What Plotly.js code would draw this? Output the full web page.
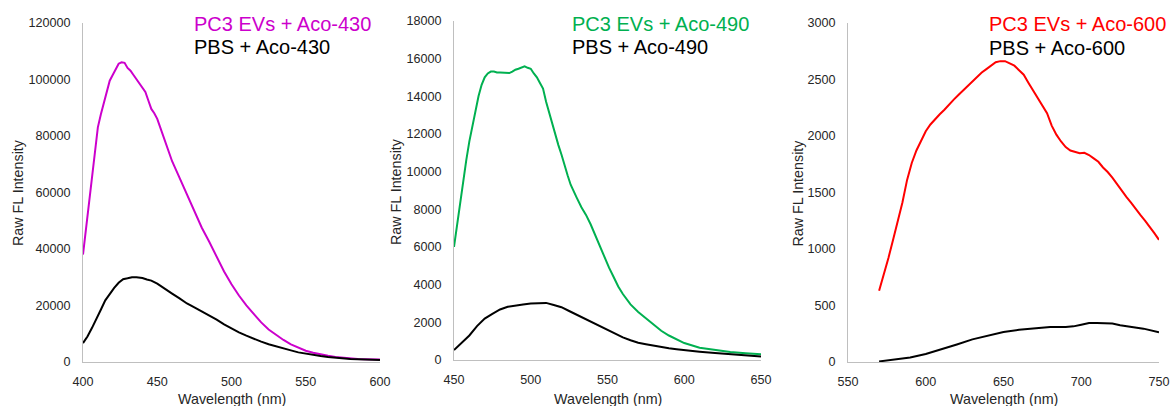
<!DOCTYPE html>
<html><head><meta charset="utf-8">
<script src="https://cdn.plot.ly/plotly-3.0.1.min.js"></script>
<style>html,body{margin:0;padding:0;background:#fff}#chart{width:1172px;height:406px}</style>
</head><body><div id="chart"></div>
<script>
// Panel 1: Aco-430
const wl430Evs = [400,402,404,406,408,410,412,414,416,418,420,422,424,426,428,430,432,434,436,438,440,442,444,446,448,450,452,455,458,460,463,466,470,475,480,485,490,495,500,505,510,515,520,525,530,535,540,545,550,555,560,565,570,575,580,585,590,595,600];
const evs430 = [38000,47000,56000,66000,75000,83000,87500,91500,95500,99500,101500,103500,105500,106000,105800,104000,103000,101500,100000,98500,97000,95500,92500,89500,88000,86000,83000,78500,74000,71000,67500,64000,59500,53500,47500,42500,37000,32000,27500,23500,20000,17000,14000,11500,9500,7800,6200,5000,4000,3300,2700,2200,1800,1500,1300,1100,1000,900,850];
const wl430Pbs = [400,403,406,409,412,415,418,421,424,427,430,433,436,440,443,446,450,455,460,465,470,475,480,485,490,495,500,505,510,515,520,525,530,535,540,545,550,555,560,565,570,575,580,585,590,595,600];
const pbs430 = [6700,9000,12000,15000,18500,21800,24200,26200,28000,29300,29600,30000,30000,29700,29200,28800,27700,25800,24200,22500,20700,19300,17900,16600,15000,13300,11800,10500,9300,8200,7200,6300,5500,4800,4100,3400,2900,2500,2100,1800,1500,1300,1100,1000,850,750,700];

// Panel 2: Aco-490
const wl490Evs = [450,452,454,456,458,460,462,464,466,468,470,472,474,476,478,480,482,484,486,488,490,492,494,496,498,500,502,504,506,508,510,512,514,516,518,520,522,524,526,528,530,533,536,539,542,545,548,551,554,557,560,565,570,575,580,585,590,595,600,610,620,630,640,650];
const evs490 = [6000,7200,8300,9500,10600,11600,12400,13200,14000,14600,15000,15200,15300,15300,15250,15250,15250,15230,15220,15300,15400,15450,15500,15580,15500,15450,15200,15000,14700,14400,13700,13100,12500,11900,11400,10900,10300,9800,9300,8900,8600,8100,7700,7200,6600,6000,5400,4900,4400,3900,3500,2950,2550,2200,1850,1550,1300,1100,900,650,520,420,360,310];
const wl490Pbs = [450,455,460,465,470,475,480,485,490,495,500,505,510,515,520,525,530,535,540,545,550,555,560,565,570,575,580,585,590,595,600,610,620,630,640,650];
const pbs490 = [530,900,1300,1800,2200,2450,2680,2820,2900,2950,3000,3030,3030,2920,2800,2600,2400,2200,1980,1770,1570,1380,1200,1050,920,840,760,690,620,570,520,440,370,310,250,190];

// Panel 3: Aco-600
const wl600Evs = [570,573,576,579,582,585,588,591,594,597,600,603,606,609,612,615,618,621,624,627,630,633,636,639,642,645,648,651,654,657,660,663,666,669,672,675,678,681,684,687,690,693,696,699,702,705,708,711,714,717,720,723,726,729,732,735,738,741,744,747,750];
const evs600 = [630,770,920,1080,1250,1410,1610,1760,1870,1960,2040,2100,2150,2190,2230,2280,2320,2360,2400,2440,2480,2520,2560,2590,2620,2650,2660,2660,2640,2620,2580,2540,2470,2400,2340,2270,2200,2090,2010,1950,1900,1870,1855,1845,1850,1830,1800,1770,1720,1680,1630,1570,1510,1460,1410,1350,1300,1250,1200,1140,1080];
const wl600Pbs = [570,580,590,600,610,620,630,640,650,660,670,680,690,695,700,705,710,715,720,725,730,740,750];
const pbs600 = [5,20,40,70,110,155,200,235,265,285,300,310,310,315,330,345,345,345,340,325,315,295,262];

const labels = {
  evs: ["PC3 EVs + Aco-430","PC3 EVs + Aco-490","PC3 EVs + Aco-600"],
  pbs: ["PBS + Aco-430","PBS + Aco-490","PBS + Aco-600"]
};
const xTitle = "Wavelength (nm)";
const yTitle = "Raw FL Intensity";

const colEvs = ["#CC00CC","#00B050","#FF0000"];
const W = 1172, H = 406;
const FONT = "Liberation Sans, Arial, sans-serif";
const TXT = "#262626";

function tr(x, y, col, ax) {
  return {x: x, y: y, type: "scatter", mode: "lines", xaxis: "x"+ax, yaxis: "y"+ax,
          line: {color: col, width: 2}, hoverinfo: "skip", showlegend: false};
}
const data = [
  tr(wl430Evs, evs430, colEvs[0], ""), tr(wl430Pbs, pbs430, "#000000", ""),
  tr(wl490Evs, evs490, colEvs[1], "2"), tr(wl490Pbs, pbs490, "#000000", "2"),
  tr(wl600Evs, evs600, colEvs[2], "3"), tr(wl600Pbs, pbs600, "#000000", "3")
];

// pixel boxes of plot areas [x0,x1,yTop,yBottom]
const boxes = [[83,380,22.7,362],[454,761,20.7,360],[848,1159,22.7,362]];
const xr = [[400,600],[450,650],[550,750]];
const yr = [[0,120000,20000],[0,18000,2000],[0,3000,500]];

const layout = {width: W, height: H, margin: {l:0,r:0,t:0,b:0}, paper_bgcolor:"#fff", plot_bgcolor:"#fff",
  font: {family: FONT, size: 12, color: TXT}, showlegend: false, annotations: []};

boxes.forEach((b, i) => {
  const s = i === 0 ? "" : String(i+1);
  layout["xaxis"+s] = {domain: [b[0]/W, b[1]/W], range: xr[i], dtick: 50, tick0: 0, anchor: "y"+s,
    showline: true, linecolor: "#bfbfbf", linewidth: 1, showgrid: false, zeroline: false, ticks: "",
    ticklabelstandoff: 8, tickfont: {size: 12.6, family: FONT, color: TXT}, fixedrange: true};
  layout["yaxis"+s] = {domain: [1 - b[3]/H, 1 - b[2]/H], range: [yr[i][0], yr[i][1]], dtick: yr[i][2], anchor: "x"+s,
    showline: true, linecolor: "#bfbfbf", linewidth: 1, showgrid: false, zeroline: false, ticks: "",
    tickformat: "d", ticklabelstandoff: 9, tickfont: {size: 12.6, family: FONT, color: TXT}, fixedrange: true};
  layout.annotations.push({xref: "paper", yref: "paper", x: (b[0]+b[1])/2/W, y: 1 - 399/H, text: xTitle,
    showarrow: false, xanchor: "center", yanchor: "middle", font: {size: 14.3, family: FONT, color: TXT}});
});
const yTitleX = [18, 396, 797.5];
const yTitleY = [193, 191, 193];
yTitleX.forEach((x, i) => {
  layout.annotations.push({xref: "paper", yref: "paper", x: x/W, y: 1 - yTitleY[i]/H, text: yTitle, textangle: -90,
    showarrow: false, xanchor: "center", yanchor: "middle", font: {size: 14.3, family: FONT, color: TXT}});
});
const legX = [192, 570, 987];
const legY1 = [23.5, 23.5, 24.5], legY2 = [47, 47, 48];
legX.forEach((x, i) => {
  layout.annotations.push({xref: "paper", yref: "paper", x: x/W, y: 1 - legY1[i]/H, text: labels.evs[i],
    showarrow: false, xanchor: "left", yanchor: "middle", font: {size: 20, family: FONT, color: colEvs[i]}});
  layout.annotations.push({xref: "paper", yref: "paper", x: x/W, y: 1 - legY2[i]/H, text: labels.pbs[i],
    showarrow: false, xanchor: "left", yanchor: "middle", font: {size: 20, family: FONT, color: "#000000"}});
});

Plotly.newPlot("chart", data, layout, {staticPlot: true, displayModeBar: false});
</script></body></html>
